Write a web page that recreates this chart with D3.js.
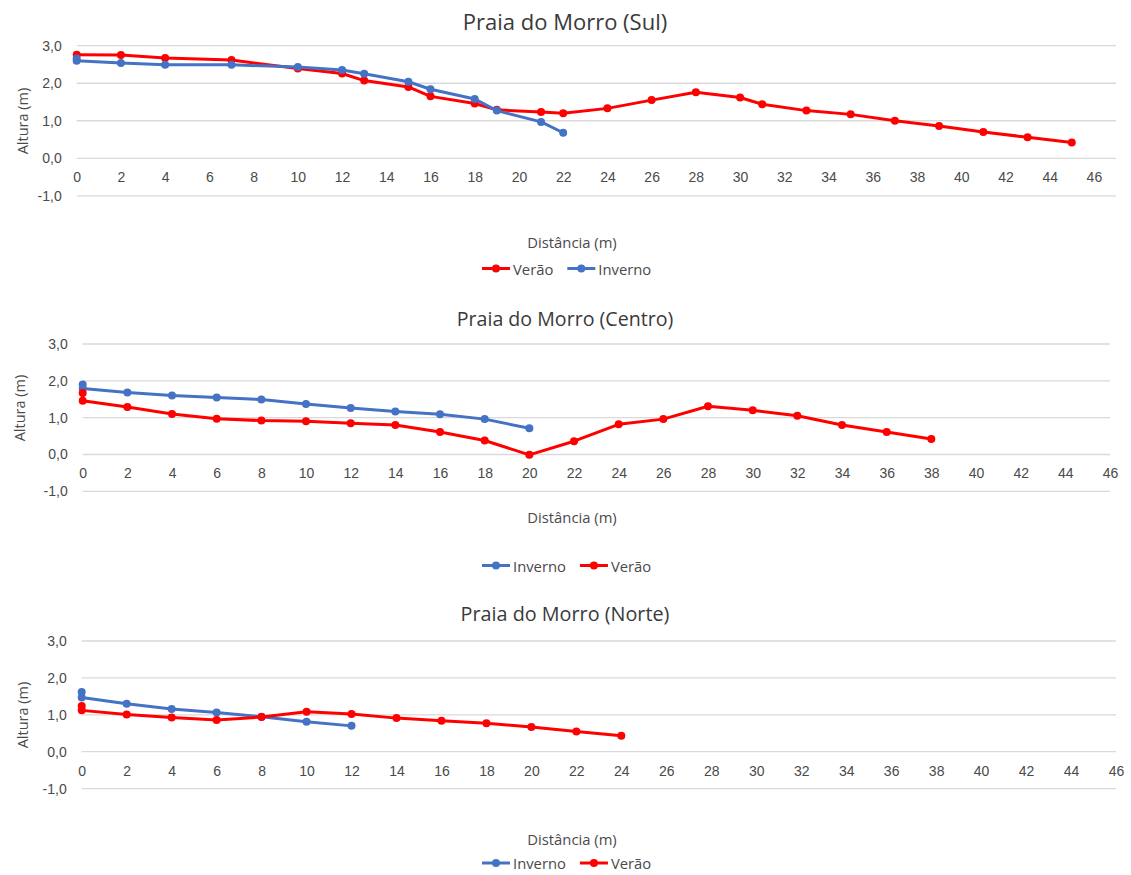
<!DOCTYPE html>
<html>
<head>
<meta charset="utf-8">
<script src="https://cdn.jsdelivr.net/npm/d3@7"></script>
<style>
  html, body { margin: 0; padding: 0; background: #fff; }
  svg { display: block; font-family: "Open Sans", "Noto Sans", sans-serif; }
</style>
</head>
<body>
<svg id="chart" width="1131" height="875"></svg>
<script>
// Beach profiles: distance (m) vs height (m), summer (Verão) and winter (Inverno)
const xTickValues = d3.range(0, 47, 2);
const yTickValues = [3, 2, 1, 0, -1];
const yTickLabels = ["3,0", "2,0", "1,0", "0,0", "-1,0"];

// Sul
const sulVeraoX = [0, 2, 4, 7, 10, 12, 13, 15, 16, 18, 19, 21, 22, 24, 26, 28, 30, 31, 33, 35, 37, 39, 41, 43, 45];
const sulVeraoY = [2.76, 2.75, 2.67, 2.62, 2.39, 2.26, 2.07, 1.90, 1.65, 1.46, 1.29, 1.23, 1.20, 1.33, 1.55, 1.76, 1.62, 1.44, 1.27, 1.17, 1.00, 0.86, 0.70, 0.56, 0.42];
const sulInvernoX = [0, 0, 2, 4, 7, 10, 12, 13, 15, 16, 18, 19, 21, 22];
const sulInvernoY = [2.66, 2.60, 2.54, 2.49, 2.49, 2.43, 2.35, 2.25, 2.04, 1.84, 1.58, 1.27, 0.97, 0.68];

// Centro
const centroInvernoX = [0, 0, 2, 4, 6, 8, 10, 12, 14, 16, 18, 20];
const centroInvernoY = [1.90, 1.79, 1.68, 1.60, 1.55, 1.49, 1.37, 1.26, 1.17, 1.09, 0.96, 0.71];
const centroVeraoX = [0, 0, 2, 4, 6, 8, 10, 12, 14, 16, 18, 20, 22, 24, 26, 28, 30, 32, 34, 36, 38];
const centroVeraoY = [1.67, 1.46, 1.29, 1.10, 0.97, 0.92, 0.90, 0.85, 0.80, 0.61, 0.38, -0.01, 0.36, 0.82, 0.96, 1.31, 1.20, 1.05, 0.80, 0.61, 0.42];

// Norte
const norteInvernoX = [0, 0, 2, 4, 6, 8, 10, 12];
const norteInvernoY = [1.62, 1.47, 1.30, 1.16, 1.06, 0.95, 0.81, 0.70];
const norteVeraoX = [0, 0, 2, 4, 6, 8, 10, 12, 14, 16, 18, 20, 22, 24];
const norteVeraoY = [1.24, 1.12, 1.01, 0.93, 0.86, 0.94, 1.08, 1.02, 0.91, 0.84, 0.77, 0.67, 0.55, 0.43];

const RED = "#FF0000", BLUE = "#4472C4";
const TEXT = "#4a4a4a";

const zip = (xs, ys) => xs.map((x, i) => ({ x, y: ys[i] }));

const panels = [
  {
    title: "Praia do Morro (Sul)", titleY: 21, titleSize: 22,
    x0: 76.7, x1: 1116, xMax: 47, yTop: 45.7, yBot: 195.8,
    yTitleX: 22, yTitleY: 121, xTitleY: 242, legendY: 268.5,
    series: [
      { name: "Verão", color: RED, pts: zip(sulVeraoX, sulVeraoY) },
      { name: "Inverno", color: BLUE, pts: zip(sulInvernoX, sulInvernoY) }
    ]
  },
  {
    title: "Praia do Morro (Centro)", titleY: 318, titleSize: 19.6,
    x0: 82.7, x1: 1110, xMax: 46, yTop: 344, yBot: 491.3,
    yTitleX: 19, yTitleY: 408, xTitleY: 517, legendY: 565.5,
    series: [
      { name: "Inverno", color: BLUE, pts: zip(centroInvernoX, centroInvernoY) },
      { name: "Verão", color: RED, pts: zip(centroVeraoX, centroVeraoY) }
    ]
  },
  {
    title: "Praia do Morro (Norte)", titleY: 613, titleSize: 19.8,
    x0: 81.7, x1: 1116, xMax: 46, yTop: 641, yBot: 788.6,
    yTitleX: 22, yTitleY: 715, xTitleY: 839, legendY: 863,
    series: [
      { name: "Inverno", color: BLUE, pts: zip(norteInvernoX, norteInvernoY) },
      { name: "Verão", color: RED, pts: zip(norteVeraoX, norteVeraoY) }
    ]
  }
];

const svg = d3.select("#chart");

panels.forEach(p => {
  const g = svg.append("g");
  const x = d3.scaleLinear().domain([0, p.xMax]).range([p.x0, p.x1]);
  const y = d3.scaleLinear().domain([-1, 3]).range([p.yBot, p.yTop]);

  // horizontal gridlines
  g.append("g").selectAll("line").data(yTickValues).join("line")
    .attr("x1", p.x0).attr("x2", p.x1)
    .attr("y1", d => y(d)).attr("y2", d => y(d))
    .attr("stroke", "#D9D9D9").attr("stroke-width", 1.3);

  // y tick labels
  const yAxis = d3.axisLeft(y).tickValues(yTickValues)
    .tickFormat((d, i) => yTickLabels[i]).tickSize(0).tickPadding(15);
  const ya = g.append("g").attr("transform", `translate(${p.x0},0)`).call(yAxis);
  ya.select(".domain").remove();
  ya.selectAll("text").attr("fill", TEXT).style("font-size", "14px");

  // x tick labels sit just below the zero line
  const xAxis = d3.axisBottom(x).tickValues(xTickValues).tickSize(0).tickPadding(14);
  const xa = g.append("g").attr("transform", `translate(0,${y(0)})`).call(xAxis);
  xa.select(".domain").remove();
  xa.selectAll("text").attr("fill", TEXT).style("font-size", "14px");

  // series lines and markers
  const line = d3.line().x(d => x(d.x)).y(d => y(d.y));
  p.series.forEach(s => {
    g.append("path").datum(s.pts)
      .attr("d", line).attr("fill", "none")
      .attr("stroke", s.color).attr("stroke-width", 3)
      .attr("stroke-linejoin", "round").attr("stroke-linecap", "round");
    g.append("g").selectAll("circle").data(s.pts).join("circle")
      .attr("cx", d => x(d.x)).attr("cy", d => y(d.y)).attr("r", 4)
      .attr("fill", s.color);
  });

  // chart title
  g.append("text").attr("x", 565).attr("y", p.titleY)
    .attr("text-anchor", "middle").attr("dominant-baseline", "central")
    .attr("fill", "#3a3a3a").style("font-size", p.titleSize + "px")
    .text(p.title);

  // axis titles
  g.append("text")
    .attr("transform", `translate(${p.yTitleX},${p.yTitleY}) rotate(-90)`)
    .attr("text-anchor", "middle").attr("dominant-baseline", "central")
    .attr("fill", TEXT).style("font-size", "14.5px").text("Altura (m)");
  g.append("text").attr("x", 572).attr("y", p.xTitleY)
    .attr("text-anchor", "middle").attr("dominant-baseline", "central")
    .attr("fill", TEXT).style("font-size", "14.8px").text("Distância (m)");

  // legend
  const lg = g.append("g").attr("transform", `translate(482,${p.legendY})`);
  let offset = 0;
  p.series.forEach(s => {
    const item = lg.append("g").attr("transform", `translate(${offset},0)`);
    item.append("line").attr("x1", 0).attr("x2", 28).attr("y1", 0).attr("y2", 0)
      .attr("stroke", s.color).attr("stroke-width", 3);
    item.append("circle").attr("cx", 14).attr("cy", 0).attr("r", 4).attr("fill", s.color);
    const t = item.append("text").attr("x", 31).attr("y", 0)
      .attr("dominant-baseline", "central")
      .attr("fill", TEXT).style("font-size", "14.8px").text(s.name);
    offset += 31 + t.node().getComputedTextLength() + 14;
  });
});
</script>
</body>
</html>
